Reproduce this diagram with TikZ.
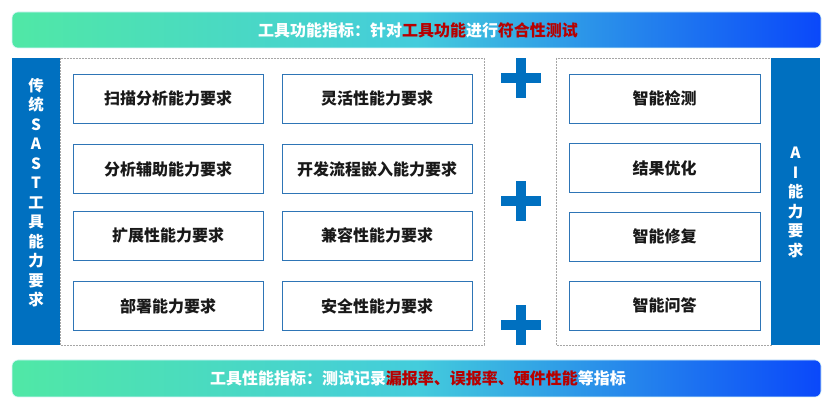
\documentclass[tikz,border=0pt]{standalone}
\usepackage{fontspec}
\setmainfont{Noto Sans CJK SC}
\definecolor{sastblue}{HTML}{0070C0}
\definecolor{boxline}{HTML}{2E75B6}
\definecolor{hotred}{HTML}{B80000}
\definecolor{bandgreen}{HTML}{50E8A6}
\definecolor{bandcyan}{HTML}{44CCDC}
\definecolor{bandblue}{HTML}{0A48FA}
\definecolor{dashgrey}{HTML}{A6A6A6}
\def\hot#1{\textcolor{hotred}{#1}}

\begin{document}
\begin{tikzpicture}[x=1pt,y=-1pt,
    band/.style={rounded corners=6pt,left color=bandgreen,right color=bandblue,middle color=bandcyan,draw=white!80!bandcyan,line width=0.6pt},
    bandtext/.style={text=white,font=\bfseries\fontsize{16}{18}\selectfont},
    sidetext/.style={text=white,align=center,font=\bfseries\fontsize{15.5}{19.5}\selectfont},
    reqbox/.style={draw=boxline,line width=0.8pt,fill=white,minimum width=190pt,minimum height=49pt,inner sep=0pt,font=\bfseries\fontsize{16}{18}\selectfont,text=black!90},
    frame/.style={draw=dashgrey,dash pattern=on 2pt off 1pt,line width=0.6pt}]

    \fill[white] (0,0) rectangle (831,406);
    \useasboundingbox (0,0) rectangle (831,406);

    % top and bottom bands
    \shade[band] (12,12) rectangle (821,48);
    \node[bandtext] (func) at (418,30) {工具功能指标：针对\hot{工具功能}进行\hot{符合性测试}};
    \shade[band] (12,360) rectangle (821,397);
    \node[bandtext] (perf) at (418,378) {工具性能指标：测试记录\hot{漏报率、误报率、硬件性能}等指标};

    % traditional SAST
    \draw[frame] (60,58) rectangle (484,345);
    \fill[sastblue] (12,58) rectangle (60,345);
    \node[sidetext] (sast) at (36,192.5) {传\\统\\S\\A\\S\\T\\工\\具\\能\\力\\要\\求};

    \node[reqbox] (scan) at (168,98.5) {扫描分析能力要求};
    \node[reqbox] (aux) at (168,169) {分析辅助能力要求};
    \node[reqbox] (ext) at (168,235.5) {扩展性能力要求};
    \node[reqbox] (dep) at (168,306) {部署能力要求};
    \node[reqbox] (flex) at (377,98.5) {灵活性能力要求};
    \node[reqbox] (embed) at (377,169) {开发流程嵌入能力要求};
    \node[reqbox] (compat) at (377,235.5) {兼容性能力要求};
    \node[reqbox] (secure) at (377,306) {安全性能力要求};

    % plus signs
    \foreach \py in {78,201,325} {
        \fill[sastblue] (501,\py-5) rectangle (541,\py+5);
        \fill[sastblue] (516,\py-20) rectangle (526,\py+20);
    }

    % AI
    \draw[frame] (556,58) rectangle (772,345);
    \fill[sastblue] (771,58) rectangle (820,345);
    \node[sidetext] (ai) at (795.5,202.5) {A\\I\\能\\力\\要\\求};

    \node[reqbox,minimum width=191pt] (detect) at (664.5,98.5) {智能检测};
    \node[reqbox,minimum width=191pt] (optim) at (664.5,168) {结果优化};
    \node[reqbox,minimum width=191pt] (repair) at (664.5,236.5) {智能修复};
    \node[reqbox,minimum width=191pt] (qa) at (664.5,305.5) {智能问答};

\end{tikzpicture}
\end{document}
